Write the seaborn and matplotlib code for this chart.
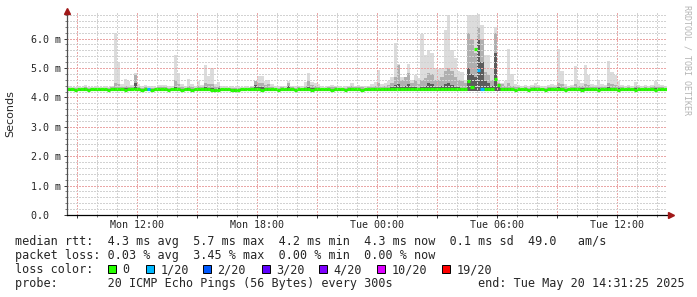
import numpy as np
import pandas as pd
import matplotlib
matplotlib.use("Agg")
import matplotlib.pyplot as plt
import seaborn as sns

# ---------------- data (10-minute bins, RTT in ms) ----------------
# graph ends Tue May 20 14:31:25 2025, covers 30 hours; times in hours since Mon 00:00
t_end_h = 38 + 31 / 60 + 25 / 3600
span_h = 30.0
bin_h = 1 / 6

max_rtt = [
    4.38, 4.35, 4.36, 4.38, 4.37, 4.43, 4.36, 4.35, 4.38, 4.36, 4.37, 4.38, 4.36, 4.40, 6.20, 5.20, 4.45, 4.64,
    4.55, 4.42, 4.84, 4.45, 4.40, 4.42, 4.38, 4.40, 4.37, 4.43, 4.42, 4.43, 4.38, 4.40, 5.45, 4.84, 4.45, 4.40,
    4.64, 4.45, 4.40, 4.55, 4.42, 5.10, 4.74, 5.00, 4.45, 4.53, 4.40, 4.38, 4.37, 4.38, 4.36, 4.38, 4.37, 4.38,
    4.37, 4.40, 4.57, 4.74, 4.74, 4.55, 4.60, 4.45, 4.40, 4.38, 4.40, 4.38, 4.55, 4.40, 4.38, 4.40, 4.38, 4.53,
    4.84, 4.53, 4.50, 4.45, 4.38, 4.37, 4.40, 4.42, 4.40, 4.38, 4.36, 4.38, 4.40, 4.50, 4.40, 4.42, 4.40, 4.38,
    4.40, 4.45, 4.53, 4.94, 4.45, 4.50, 4.55, 4.70, 5.85, 5.15, 4.70, 4.60, 5.15, 4.60, 4.75, 4.65, 6.15, 5.45,
    5.60, 5.50, 5.00, 4.95, 5.00, 6.30, 6.80, 5.60, 5.35, 4.90, 4.85, 4.60, 6.80, 6.80, 6.80, 6.85, 6.47, 5.45,
    5.45, 5.00, 6.40, 4.60, 4.50, 4.55, 5.63, 4.80, 4.45, 4.42, 4.40, 4.42, 4.40, 4.42, 4.50, 4.42, 4.40, 4.40,
    4.42, 4.45, 4.42, 5.63, 4.90, 4.45, 4.40, 4.42, 5.07, 4.60, 4.50, 5.10, 4.75, 4.45, 4.42, 4.60, 4.45, 4.42,
    5.25, 4.85, 4.75, 4.55, 4.42, 4.40, 4.42, 4.40, 4.53, 4.42, 4.40, 4.42, 4.40, 4.42, 4.55, 4.45, 4.42, 4.40,
]

mid_rtt = [
    4.33, 4.32, 4.33, 4.33, 4.32, 4.36, 4.33, 4.32, 4.33, 4.32, 4.33, 4.33, 4.32, 4.34, 4.50, 4.45, 4.35, 4.40,
    4.36, 4.34, 4.75, 4.36, 4.33, 4.34, 4.32, 4.33, 4.32, 4.35, 4.34, 4.35, 4.33, 4.33, 4.60, 4.45, 4.35, 4.33,
    4.40, 4.35, 4.33, 4.38, 4.34, 4.50, 4.45, 4.45, 4.35, 4.38, 4.33, 4.32, 4.32, 4.33, 4.32, 4.33, 4.32, 4.33,
    4.32, 4.34, 4.57, 4.50, 4.50, 4.42, 4.45, 4.36, 4.33, 4.32, 4.34, 4.33, 4.50, 4.34, 4.33, 4.34, 4.33, 4.40,
    4.55, 4.42, 4.40, 4.36, 4.33, 4.32, 4.34, 4.35, 4.34, 4.33, 4.32, 4.33, 4.34, 4.40, 4.34, 4.35, 4.34, 4.33,
    4.34, 4.36, 4.40, 4.50, 4.36, 4.40, 4.42, 4.50, 4.70, 5.10, 4.60, 4.70, 4.84, 4.50, 4.60, 4.45, 4.60, 4.65,
    4.84, 4.80, 4.60, 4.60, 4.70, 4.90, 5.00, 4.90, 4.70, 4.60, 4.55, 4.50, 6.20, 6.00, 5.50, 6.40, 6.00, 4.85,
    4.75, 4.60, 6.20, 4.50, 4.45, 4.40, 4.50, 4.40, 4.36, 4.34, 4.33, 4.34, 4.33, 4.34, 4.38, 4.34, 4.33, 4.33,
    4.34, 4.36, 4.34, 4.50, 4.45, 4.36, 4.33, 4.34, 4.45, 4.40, 4.38, 4.45, 4.42, 4.36, 4.34, 4.40, 4.36, 4.34,
    4.50, 4.45, 4.42, 4.38, 4.34, 4.33, 4.34, 4.33, 4.38, 4.34, 4.33, 4.34, 4.33, 4.34, 4.38, 4.36, 4.34, 4.33,
]

dark_rtt = [
    4.30, 4.30, 4.30, 4.30, 4.30, 4.31, 4.30, 4.30, 4.30, 4.30, 4.30, 4.30, 4.30, 4.30, 4.33, 4.31, 4.30, 4.31,
    4.31, 4.30, 4.50, 4.31, 4.30, 4.30, 4.30, 4.30, 4.30, 4.30, 4.30, 4.30, 4.30, 4.30, 4.36, 4.32, 4.30, 4.30,
    4.31, 4.30, 4.30, 4.31, 4.30, 4.34, 4.32, 4.33, 4.30, 4.31, 4.30, 4.30, 4.30, 4.30, 4.30, 4.30, 4.30, 4.30,
    4.30, 4.30, 4.42, 4.34, 4.34, 4.32, 4.33, 4.30, 4.30, 4.30, 4.30, 4.30, 4.40, 4.30, 4.30, 4.30, 4.30, 4.32,
    4.36, 4.32, 4.31, 4.30, 4.30, 4.30, 4.30, 4.30, 4.30, 4.30, 4.30, 4.30, 4.30, 4.32, 4.30, 4.30, 4.30, 4.30,
    4.30, 4.30, 4.31, 4.33, 4.30, 4.32, 4.33, 4.35, 4.42, 4.45, 4.36, 4.38, 4.45, 4.35, 4.36, 4.33, 4.35, 4.38,
    4.50, 4.45, 4.36, 4.36, 4.40, 4.45, 4.50, 4.42, 4.36, 4.34, 4.33, 4.33, 5.00, 4.80, 4.70, 6.00, 5.20, 4.55,
    4.48, 4.40, 5.50, 4.35, 4.33, 4.32, 4.33, 4.31, 4.30, 4.30, 4.30, 4.30, 4.30, 4.30, 4.31, 4.30, 4.30, 4.30,
    4.30, 4.31, 4.30, 4.36, 4.33, 4.30, 4.30, 4.30, 4.33, 4.32, 4.31, 4.33, 4.32, 4.30, 4.30, 4.31, 4.30, 4.30,
    4.34, 4.32, 4.32, 4.31, 4.30, 4.30, 4.30, 4.30, 4.31, 4.30, 4.30, 4.30, 4.30, 4.30, 4.31, 4.30, 4.30, 4.30,
]

min_rtt = [
    4.22, 4.22, 4.21, 4.22, 4.23, 4.22, 4.21, 4.22, 4.22, 4.23, 4.22, 4.22, 4.21, 4.22, 4.23, 4.22, 4.22, 4.21,
    4.22, 4.23, 4.24, 4.22, 4.21, 4.22, 4.22, 4.21, 4.22, 4.23, 4.22, 4.22, 4.21, 4.22, 4.23, 4.22, 4.21, 4.22,
    4.22, 4.21, 4.22, 4.22, 4.23, 4.22, 4.22, 4.21, 4.20, 4.21, 4.22, 4.23, 4.22, 4.21, 4.20, 4.21, 4.22, 4.22,
    4.24, 4.23, 4.22, 4.22, 4.21, 4.22, 4.22, 4.23, 4.22, 4.21, 4.22, 4.22, 4.23, 4.22, 4.21, 4.22, 4.22, 4.23,
    4.22, 4.21, 4.22, 4.22, 4.23, 4.22, 4.22, 4.21, 4.22, 4.23, 4.22, 4.21, 4.22, 4.22, 4.23, 4.22, 4.21, 4.22,
    4.22, 4.22, 4.23, 4.23, 4.22, 4.23, 4.22, 4.22, 4.23, 4.24, 4.23, 4.22, 4.23, 4.22, 4.23, 4.22, 4.23, 4.23,
    4.22, 4.23, 4.22, 4.23, 4.23, 4.22, 4.23, 4.23, 4.22, 4.23, 4.22, 4.23, 4.23, 4.23, 4.23, 4.23, 4.23, 4.23,
    4.23, 4.22, 4.23, 4.23, 4.22, 4.23, 4.22, 4.22, 4.21, 4.22, 4.23, 4.22, 4.21, 4.22, 4.22, 4.23, 4.22, 4.21,
    4.22, 4.22, 4.23, 4.22, 4.22, 4.21, 4.22, 4.23, 4.22, 4.22, 4.21, 4.22, 4.23, 4.22, 4.22, 4.21, 4.22, 4.22,
    4.23, 4.22, 4.22, 4.21, 4.22, 4.22, 4.23, 4.22, 4.21, 4.22, 4.22, 4.23, 4.22, 4.22, 4.21, 4.22, 4.22, 4.22,
]

median_rtt = [
    4.27, 4.27, 4.26, 4.27, 4.28, 4.27, 4.26, 4.27, 4.27, 4.28, 4.27, 4.27, 4.26, 4.27, 4.28, 4.27, 4.27, 4.26,
    4.27, 4.28, 4.30, 4.27, 4.26, 4.27, 4.27, 4.26, 4.27, 4.28, 4.27, 4.27, 4.26, 4.27, 4.28, 4.27, 4.26, 4.27,
    4.27, 4.26, 4.27, 4.27, 4.28, 4.27, 4.27, 4.26, 4.25, 4.26, 4.27, 4.28, 4.27, 4.26, 4.25, 4.26, 4.27, 4.27,
    4.30, 4.28, 4.27, 4.27, 4.26, 4.27, 4.27, 4.28, 4.27, 4.26, 4.27, 4.27, 4.28, 4.27, 4.26, 4.27, 4.27, 4.28,
    4.27, 4.26, 4.27, 4.27, 4.28, 4.27, 4.27, 4.26, 4.27, 4.28, 4.27, 4.26, 4.27, 4.27, 4.28, 4.27, 4.26, 4.27,
    4.27, 4.27, 4.28, 4.29, 4.27, 4.28, 4.27, 4.27, 4.29, 4.30, 4.28, 4.27, 4.28, 4.27, 4.28, 4.27, 4.28, 4.28,
    4.27, 4.28, 4.27, 4.28, 4.28, 4.27, 4.28, 4.28, 4.27, 4.28, 4.27, 4.28, 4.55, 4.37, 5.66, 4.94, 4.28, 4.28,
    4.28, 4.27, 4.64, 4.43, 4.27, 4.28, 4.27, 4.27, 4.26, 4.27, 4.28, 4.27, 4.26, 4.27, 4.27, 4.28, 4.27, 4.26,
    4.27, 4.27, 4.28, 4.27, 4.27, 4.26, 4.27, 4.28, 4.27, 4.27, 4.26, 4.27, 4.28, 4.27, 4.27, 4.26, 4.27, 4.27,
    4.28, 4.27, 4.27, 4.26, 4.27, 4.27, 4.28, 4.27, 4.26, 4.27, 4.27, 4.28, 4.27, 4.27, 4.26, 4.27, 4.27, 4.27,
]

lost_pings = [
    0, 0, 0, 0, 0, 0, 0, 0, 0, 0, 0, 0, 0, 0, 0, 0, 0, 0,
    0, 0, 0, 0, 0, 0, 1, 0, 0, 0, 0, 0, 0, 0, 0, 0, 0, 0,
    0, 0, 0, 0, 0, 0, 0, 0, 0, 0, 0, 0, 0, 0, 0, 0, 0, 0,
    0, 0, 0, 0, 0, 0, 0, 0, 0, 0, 0, 0, 0, 0, 0, 0, 0, 0,
    0, 0, 0, 0, 0, 0, 0, 0, 0, 0, 0, 0, 0, 0, 0, 0, 0, 0,
    0, 0, 0, 0, 0, 0, 0, 0, 0, 0, 0, 0, 0, 0, 0, 0, 0, 0,
    0, 0, 0, 0, 0, 0, 0, 0, 0, 0, 0, 0, 0, 0, 0, 1, 1, 0,
    0, 0, 0, 0, 0, 0, 0, 0, 0, 0, 0, 0, 0, 0, 0, 0, 0, 0,
    0, 0, 0, 0, 0, 0, 0, 0, 0, 0, 0, 0, 0, 0, 0, 0, 0, 0,
    0, 0, 0, 0, 0, 0, 0, 0, 0, 0, 0, 0, 0, 0, 0, 0, 0, 0,
]

loss_levels = [0, 1, 2, 3, 4, 10, 19]
loss_names = ["0", "1/20", "2/20", "3/20", "4/20", "10/20", "19/20"]
loss_colors = ["#26ff00", "#00b8ff", "#0059ff", "#5e00ff", "#7e00ff", "#dd00ff", "#ff0000"]

ytick_vals = [0, 1, 2, 3, 4, 5, 6]
ytick_labels = ["0.0  ", "1.0 m", "2.0 m", "3.0 m", "4.0 m", "5.0 m", "6.0 m"]
xtick_hours = [12, 18, 24, 30, 36]
xtick_labels = ["Mon 12:00", "Mon 18:00", "Tue 00:00", "Tue 06:00", "Tue 12:00"]

legend_lines = [
    "median rtt:  4.3 ms avg  5.7 ms max  4.2 ms min  4.3 ms now  0.1 ms sd  49.0   am/s",
    "packet loss: 0.03 % avg  3.45 % max  0.00 % min  0.00 % now",
]
probe_text = "probe:       20 ICMP Echo Pings (56 Bytes) every 300s"
end_text = "end: Tue May 20 14:31:25 2025"

# ---------------- figure ----------------
sns.set_theme(style="white")
plt.rcParams["font.family"] = ["DejaVu Sans Mono", "DejaVu Sans"]

W, H = 697, 297
fig = plt.figure(figsize=(W / 100, H / 100), dpi=100)
fig.patch.set_facecolor("white")
ax_l, ax_r, ax_t, ax_b = 67, 667, 13, 215
ax = fig.add_axes([ax_l / W, 1 - ax_b / H, (ax_r - ax_l) / W, (ax_b - ax_t) / H])
ax.set_facecolor("white")

n = len(median_rtt)
t0 = t_end_h - span_h
edges = t0 + np.arange(n + 1) * bin_h

def ext(a):
    a = np.asarray(a, dtype=float)
    return np.append(a, a[-1])

lo = ext(min_rtt)
ax.fill_between(edges, lo, ext(max_rtt), step="post", color="#dcdcdc", lw=0, zorder=1)
ax.fill_between(edges, lo, ext(mid_rtt), step="post", color="#b0b0b0", lw=0, zorder=1.1)
ax.fill_between(edges, lo, ext(dark_rtt), step="post", color="#5c5c5c", lw=0, zorder=1.2)

# median: one short segment per bin, coloured by packet loss
name_of = dict(zip(loss_levels, loss_names))
rows = []
for i in range(n):
    for tt in (edges[i], edges[i + 1]):
        rows.append((i, tt, median_rtt[i], name_of[lost_pings[i]]))
df = pd.DataFrame(rows, columns=["bin", "t", "rtt", "loss"])
sns.lineplot(data=df, x="t", y="rtt", units="bin", estimator=None, hue="loss",
             palette=dict(zip(loss_names, loss_colors)), legend=False, sort=False,
             lw=2.3, solid_capstyle="butt", ax=ax, zorder=3)

ax.set_xlim(t0, t_end_h)
ax.set_ylim(0, (ax_b - ax_t) / 29.4)

# grid & ticks
major_x = np.arange(9, 39, 3)
ax.set_xticks(major_x)
ax.set_xticklabels([xtick_labels[xtick_hours.index(h)] if h in xtick_hours else "" for h in major_x])
ax.set_xticks(np.arange(9, 39, 1), minor=True)
ax.set_yticks(ytick_vals)
ax.set_yticklabels(ytick_labels)
ax.set_yticks(np.arange(0, 6.9, 0.2), minor=True)
ax.set_xlabel("")
ax.set_ylabel("")

ax.set_axisbelow(False)
ax.grid(which="minor", color="#d2d2d2", lw=1.0, ls=(0, (1, 1)), zorder=2, antialiased=False)
ax.grid(which="major", color="#eaa6a6", lw=1.0, ls=(0, (1, 1)), zorder=2, antialiased=False)

ax.tick_params(axis="both", which="major", length=3 * 0.72, width=0.72, color="#404040",
               labelsize=7.2, direction="out", bottom=True, left=True)
ax.tick_params(axis="both", which="minor", length=2 * 0.72, width=0.72, color="#808080",
               direction="out", bottom=True, left=True)
ax.tick_params(axis="y", which="major", pad=2.5)
ax.tick_params(axis="x", which="major", pad=1.5)
for lab in ax.get_xticklabels() + ax.get_yticklabels():
    lab.set_family("DejaVu Sans Mono")

for s in ("top", "right"):
    ax.spines[s].set_visible(False)
ax.spines["left"].set_color("#505050")
ax.spines["bottom"].set_color("#000000")
ax.spines["left"].set_linewidth(0.9)
ax.spines["bottom"].set_linewidth(0.9)
ax.spines["left"].set_zorder(4)
ax.spines["bottom"].set_zorder(4)

arrow_col = "#a01818"
ax.plot([0], [1 + 2.5 / (ax_b - ax_t)], marker="^", ms=4.5, color=arrow_col, mec=arrow_col,
        transform=ax.transAxes, clip_on=False, zorder=5)
ax.plot([1 + 3.5 / (ax_r - ax_l)], [0], marker=">", ms=4.5, color=arrow_col, mec=arrow_col,
        transform=ax.transAxes, clip_on=False, zorder=5)

# axis title & watermark
fig.text(10.5 / W, 1 - 113.5 / H, "Seconds", rotation=90, ha="center", va="center",
         fontsize=8, family="DejaVu Sans")
fig.text(687 / W, 1 - 60 / H, "RRDTOOL / TOBI OETIKER", rotation=270, ha="center", va="center",
         fontsize=6, color="#b4b4b4", family="DejaVu Sans Mono")

# legend block
fs = 8.5
baselines = [244.5, 258.8, 273.1, 287.4]
for line, yb in zip(legend_lines, baselines[:2]):
    fig.text(15 / W, 1 - yb / H, line, ha="left", va="baseline", fontsize=fs)
fig.text(15 / W, 1 - baselines[2] / H, "loss color:", ha="left", va="baseline", fontsize=fs)
box_left = [108, 146, 203, 262, 319, 377, 442]
for bx, name, col in zip(box_left, loss_names, loss_colors):
    fig.patches.append(plt.Rectangle((bx / W, 1 - 273 / H), 8 / W, 8 / H, transform=fig.transFigure,
                                     facecolor=col, edgecolor="black", lw=0.7, figure=fig))
    fig.text((bx + 14.5) / W, 1 - baselines[2] / H, name, ha="left", va="baseline", fontsize=fs)
fig.text(15 / W, 1 - baselines[3] / H, probe_text, ha="left", va="baseline", fontsize=fs)
fig.text(477.5 / W, 1 - baselines[3] / H, end_text, ha="left", va="baseline", fontsize=fs)

fig.savefig("out.png", dpi=100, facecolor="white")
